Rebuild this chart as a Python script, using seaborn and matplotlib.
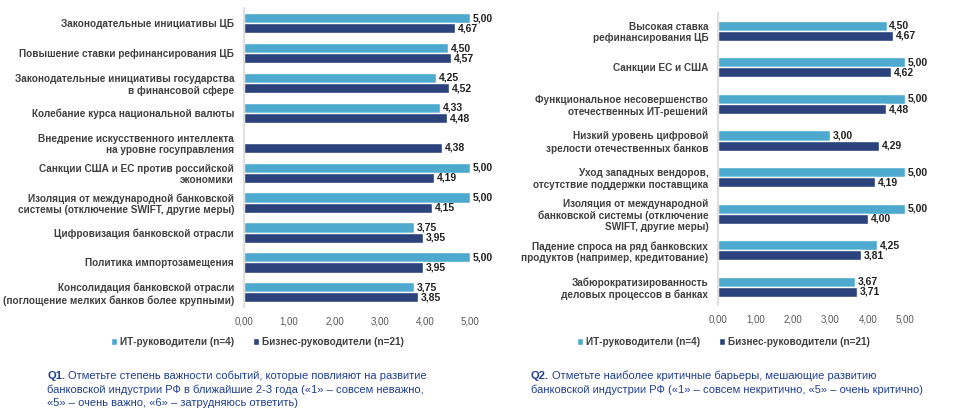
import numpy as np
import pandas as pd
import seaborn as sns
import matplotlib.pyplot as plt

# Q1 data
q1_labels = [
    'Законодательные инициативы ЦБ',
    'Повышение ставки рефинансирования ЦБ',
    'Законодательные инициативы государства\nв финансовой сфере',
    'Колебание курса национальной валюты',
    'Внедрение искусственного интеллекта\nна уровне госуправления',
    'Санкции США и ЕС против российской\nэкономики',
    'Изоляция от международной банковской\nсистемы (отключение SWIFT, другие меры)',
    'Цифровизация банковской отрасли',
    'Политика импортозамещения',
    'Консолидация банковской отрасли\n(поглощение мелких банков более крупными)',
]
q1_it = [5.00, 4.50, 4.25, 4.33, np.nan, 5.00, 5.00, 3.75, 5.00, 3.75]
q1_biz = [4.67, 4.57, 4.52, 4.48, 4.38, 4.19, 4.15, 3.95, 3.95, 3.85]

# Q2 data
q2_labels = [
    'Высокая ставка\nрефинансирования ЦБ',
    'Санкции ЕС и США',
    'Функциональное несовершенство\nотечественных ИТ-решений',
    'Низкий уровень цифровой\nзрелости отечественных банков',
    'Уход западных вендоров,\nотсутствие поддержки поставщика',
    'Изоляция от международной\nбанковской системы (отключение\nSWIFT, другие меры)',
    'Падение спроса на ряд банковских\nпродуктов (например, кредитование)',
    'Забюрократизированность\nделовых процессов в банках',
]
q2_it = [4.50, 5.00, 5.00, 3.00, 5.00, 5.00, 4.25, 3.67]
q2_biz = [4.67, 4.62, 4.48, 4.29, 4.19, 4.00, 3.81, 3.71]

series = ['ИТ-руководители (n=4)', 'Бизнес-руководители (n=21)']
colors = ['#38B2E5', '#1D3C8A']
x_ticks = [0, 1, 2, 3, 4, 5]

q1_note = ['Отметьте степень важности событий, которые повлияют на развитие',
           'банковской индустрии РФ в ближайшие 2-3 года («1» – совсем неважно,',
           '«5» – очень важно, «6» – затрудняюсь ответить)']
q2_note = ['Отметьте наиболее критичные барьеры, мешающие развитию',
           'банковской индустрии РФ («1» – совсем некритично, «5» – очень критично)']

sns.set_style('white')
plt.rcParams['font.family'] = ['Liberation Sans', 'DejaVu Sans']


def long_df(labels, it, biz):
    return pd.DataFrame({
        'label': labels * 2,
        'value': list(it) + list(biz),
        'group': [series[0]] * len(labels) + [series[1]] * len(labels),
    })


def fmt(v):
    return '' if np.isnan(v) else f'{v:.2f}'.replace('.', ',')


def draw(ax, labels, it, biz, width, leg_x):
    df = long_df(labels, it, biz)
    sns.barplot(data=df, y='label', x='value', hue='group', orient='h',
                palette=colors, width=width, ax=ax, legend=True)
    for cont in ax.containers:
        ax.bar_label(cont, labels=[fmt(b.get_width()) for b in cont],
                     padding=2, fontsize=7.5, color='#222222', fontweight='bold')
    ax.set_xlim(0, 5)
    ax.set_xticks(x_ticks)
    ax.set_xticklabels([f'{t:.2f}'.replace('.', ',') for t in x_ticks],
                       fontsize=7, color='#595959')
    ax.set_xlabel('')
    ax.set_ylabel('')
    ax.tick_params(axis='y', length=0, pad=7)
    ax.tick_params(axis='x', length=0, pad=7)
    for t in ax.get_yticklabels():
        t.set_fontsize(7.2)
        t.set_fontweight('bold')
        t.set_color('#404040')
    for s in ['top', 'right', 'bottom']:
        ax.spines[s].set_visible(False)
    ax.spines['left'].set_color('#D9D9D9')
    ax.spines['left'].set_linewidth(1.2)
    sns.move_legend(ax, 'center', bbox_to_anchor=(leg_x, 0.182),
                    bbox_transform=ax.figure.transFigure, ncol=2,
                    frameon=False, title=None, fontsize=7.2, handlelength=0.6,
                    handleheight=0.6, columnspacing=1.9, handletextpad=0.3)
    for t in ax.get_legend().get_texts():
        t.set_color('#404040')
        t.set_fontweight('bold')


def note(fig, x, y, tag, lines, step):
    navy = '#1F3F8F'
    t = fig.text(x, y, tag, fontsize=8, fontweight='bold', color=navy, va='center')
    fig.canvas.draw()
    bb = t.get_window_extent().transformed(fig.transFigure.inverted())
    fig.text(bb.x1 + 0.003, y, lines[0], fontsize=8, color=navy, va='center')
    for i, line in enumerate(lines[1:], start=1):
        fig.text(x, y - i * step, line, fontsize=8, color=navy, va='center')


fig = plt.figure(figsize=(9.6, 4.18), dpi=100)
ax1 = fig.add_axes([0.254, 0.265, 0.236, 0.715])
ax2 = fig.add_axes([0.748, 0.27, 0.195, 0.70])

draw(ax1, q1_labels, q1_it, q1_biz, 0.68, 0.268)
draw(ax2, q2_labels, q2_it, q2_biz, 0.55, 0.754)

note(fig, 0.049, 1 - 376 / 418, 'Q1.', q1_note, 13.5 / 418)
note(fig, 0.553, 1 - 376 / 418, 'Q2.', q2_note, 13.5 / 418)

fig.savefig('out.png', dpi=100)
